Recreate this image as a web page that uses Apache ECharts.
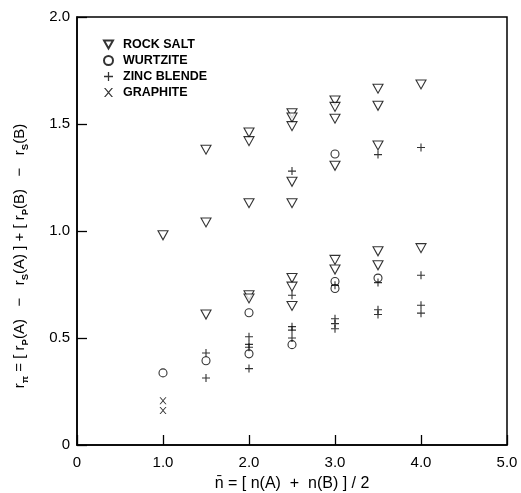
<!DOCTYPE html>
<html>
<head>
<meta charset="utf-8">
<script src="https://cdn.jsdelivr.net/npm/echarts@6/dist/echarts.min.js"></script>
<style>
  html, body { margin: 0; padding: 0; background: #fff; }
  #chart { width: 521px; height: 493px; }
</style>
</head>
<body>
<div id="chart"></div>
<script>
// Tick values and their printed labels
const xTicks = [0, 1, 2, 3, 4, 5];
const xTickLabels = ['0', '1.0', '2.0', '3.0', '4.0', '5.0'];
const yTicks = [0, 0.5, 1, 1.5, 2];
const yTickLabels = ['0', '0.5', '1.0', '1.5', '2.0'];

// Legend names
const seriesNames = ['ROCK SALT', 'WURTZITE', 'ZINC BLENDE', 'GRAPHITE'];

// [n, r_pi] pairs
const rockSalt = [
  [1.0, 0.98],
  [1.5, 1.38], [1.5, 1.04], [1.5, 0.61],
  [2.0, 1.46], [2.0, 1.42], [2.0, 1.13], [2.0, 0.70], [2.0, 0.685],
  [2.5, 1.55], [2.5, 1.53], [2.5, 1.49], [2.5, 1.23], [2.5, 1.13], [2.5, 0.78], [2.5, 0.74], [2.5, 0.65],
  [3.0, 1.61], [3.0, 1.58], [3.0, 1.525], [3.0, 1.305], [3.0, 0.865], [3.0, 0.82],
  [3.5, 1.665], [3.5, 1.585], [3.5, 1.40], [3.5, 0.905], [3.5, 0.84],
  [4.0, 1.685], [4.0, 0.92]
];
const wurtzite = [
  [1.0, 0.337],
  [1.5, 0.394],
  [2.0, 0.618], [2.0, 0.426],
  [2.5, 0.469],
  [3.0, 1.36], [3.0, 0.764], [3.0, 0.731],
  [3.5, 0.78]
];
const zincBlende = [
  [1.5, 0.43], [1.5, 0.313],
  [2.0, 0.506], [2.0, 0.47], [2.0, 0.457], [2.0, 0.357],
  [2.5, 1.28], [2.5, 0.70], [2.5, 0.553], [2.5, 0.537], [2.5, 0.50],
  [3.0, 0.746], [3.0, 0.59], [3.0, 0.567], [3.0, 0.543],
  [3.5, 1.357], [3.5, 0.759], [3.5, 0.632], [3.5, 0.61],
  [4.0, 1.39], [4.0, 0.793], [4.0, 0.653], [4.0, 0.616]
];
const graphite = [
  [1.0, 0.207], [1.0, 0.161]
];

const font = 'Liberation Sans';
const triDown = 'path://M0,0 L10,0 L5,9 Z';
const plus = 'path://M4.3,0H5.7V4.3H10V5.7H5.7V10H4.3V5.7H0V4.3H4.3Z';
const cross = 'path://M0,0H1.6L5,4L8.4,0H10L5.8,5L10,10H8.4L5,6L1.6,10H0L4.2,5Z';

const hollow = { color: '#fff', borderColor: '#000', borderWidth: 1.1 };
const solid = { color: '#000' };

const el = document.getElementById('chart');
const chart = echarts.init(el);

const option = {
  animation: false,
  backgroundColor: '#fff',
  textStyle: { fontFamily: font, color: '#000' },
  grid: {
    left: 77, top: 17, width: 430, height: 428,
    outerBoundsMode: 'none', containLabel: false,
    show: true, borderColor: '#000', borderWidth: 1.5, backgroundColor: 'transparent'
  },
  legend: {
    orient: 'vertical',
    left: 98, top: 33,
    itemWidth: 9, itemHeight: 9, itemGap: 3,
    data: seriesNames,
    textStyle: { fontFamily: font, fontSize: 12.5, fontWeight: 'bold', color: '#000', padding: [0, 0, 0, 5] }
  },
  xAxis: {
    type: 'value', min: 0, max: 5, interval: 1,
    name: 'n\u0304 = [ n(A)  +  n(B) ] / 2',
    nameLocation: 'middle', nameGap: 31,
    nameTextStyle: { fontSize: 16, color: '#000', fontFamily: font },
    axisLine: { show: true, lineStyle: { color: '#000', width: 1.5 } },
    axisTick: { show: true, inside: true, length: 10, lineStyle: { color: '#000', width: 1.3 } },
    axisLabel: {
      fontSize: 15, color: '#000', margin: 10,
      formatter: v => xTickLabels[xTicks.indexOf(v)]
    },
    splitLine: { show: false }
  },
  yAxis: {
    type: 'value', min: 0, max: 2, interval: 0.5,
    name: '{r|r}{s|\u03c0}{r| = [ r}{s|P}{r|(A)   \u2212   r}{s|S}{r|(A) ] + [ r}{s|P}{r|(B)   \u2212   r}{s|S}{r|(B)}',
    nameLocation: 'middle', nameGap: 47,
    nameTextStyle: {
      color: '#000',
      padding: [0, 50, 0, 0],
      rich: {
        r: { fontSize: 15, lineHeight: 20, fontFamily: font, color: '#000' },
        s: { fontSize: 9.5, lineHeight: 10, verticalAlign: 'bottom', fontFamily: font, fontWeight: 'bold', color: '#000' }
      }
    },
    axisLine: { show: true, lineStyle: { color: '#000', width: 1.5 } },
    axisTick: { show: true, inside: true, length: 10, lineStyle: { color: '#000', width: 1.3 } },
    axisLabel: {
      fontSize: 15, color: '#000', margin: 7,
      formatter: v => yTickLabels[yTicks.indexOf(v)]
    },
    splitLine: { show: false }
  },
  series: [
    { name: seriesNames[0], type: 'scatter', data: rockSalt, symbol: triDown, symbolSize: [10, 9], itemStyle: hollow },
    { name: seriesNames[1], type: 'scatter', data: wurtzite, symbol: 'circle', symbolSize: 8, itemStyle: hollow },
    { name: seriesNames[2], type: 'scatter', data: zincBlende, symbol: plus, symbolSize: 8, itemStyle: solid },
    { name: seriesNames[3], type: 'scatter', data: graphite, symbol: cross, symbolSize: [7, 7], itemStyle: solid }
  ]
};
chart.setOption(option);
</script>
</body>
</html>
